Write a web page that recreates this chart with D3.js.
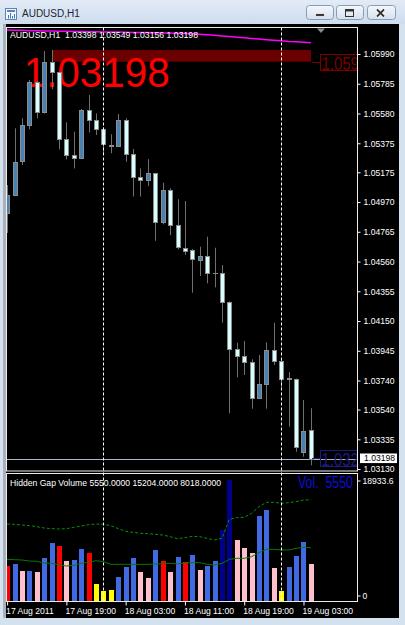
<!DOCTYPE html>
<html>
<head>
<meta charset="utf-8">
<script src="https://cdn.jsdelivr.net/npm/d3@7"></script>
<style>
body { margin: 0; background: #d4e1ef; }
svg { display: block; font-family: "Liberation Sans", Arial, sans-serif; }
</style>
</head>
<body>
<div id="chart"></div>
<script>
// hourly bars, AUDUSD H1
var times = [
  "2011.08.17 11:00","2011.08.17 12:00","2011.08.17 13:00","2011.08.17 14:00","2011.08.17 15:00","2011.08.17 16:00",
  "2011.08.17 17:00","2011.08.17 18:00","2011.08.17 19:00","2011.08.17 20:00","2011.08.17 21:00","2011.08.17 22:00",
  "2011.08.17 23:00","2011.08.18 00:00","2011.08.18 01:00","2011.08.18 02:00","2011.08.18 03:00","2011.08.18 04:00",
  "2011.08.18 05:00","2011.08.18 06:00","2011.08.18 07:00","2011.08.18 08:00","2011.08.18 09:00","2011.08.18 10:00",
  "2011.08.18 11:00","2011.08.18 12:00","2011.08.18 13:00","2011.08.18 14:00","2011.08.18 15:00","2011.08.18 16:00",
  "2011.08.18 17:00","2011.08.18 18:00","2011.08.18 19:00","2011.08.18 20:00","2011.08.18 21:00","2011.08.18 22:00",
  "2011.08.18 23:00","2011.08.19 00:00","2011.08.19 01:00","2011.08.19 02:00","2011.08.19 03:00","2011.08.19 04:00"
];
var open = [1.04892,1.05018,1.05250,1.05500,1.05799,1.05588,1.05933,1.05864,1.05406,1.05292,1.05275,1.05604,1.05535,1.05471,
  1.05363,1.05356,1.05535,1.05299,1.05145,1.05120,1.05168,1.04830,1.05053,1.04812,1.04653,1.04640,1.04570,1.04595,
  1.04484,1.04480,1.04280,1.03959,1.03911,1.03866,1.03620,1.03716,1.03950,1.03877,1.03755,1.03752,1.03245,1.03398];
var high = [1.05087,1.05478,1.05547,1.05811,1.05804,1.06011,1.06018,1.05866,1.05519,1.05455,1.05611,1.05707,1.05581,1.05485,
  1.05437,1.05577,1.05547,1.05335,1.05201,1.05265,1.05171,1.05104,1.05065,1.04989,1.04977,1.04646,1.04662,1.04731,
  1.04655,1.04536,1.04285,1.04001,1.04012,1.03886,1.03916,1.04003,1.04138,1.03881,1.03799,1.03754,1.03606,1.03549];
var low = [1.04757,1.05015,1.05225,1.05471,1.05547,1.05580,1.05747,1.05333,1.05264,1.05202,1.05270,1.05450,1.05432,1.05306,
  1.05306,1.05351,1.05248,1.05008,1.05008,1.05080,1.04703,1.04816,1.04741,1.04644,1.04605,1.04345,1.04460,1.04410,
  1.04382,1.04138,1.03514,1.03762,1.03778,1.03546,1.03613,1.03546,1.03847,1.03693,1.03422,1.03249,1.03215,1.03156];
var close = [1.05018,1.05248,1.05501,1.05799,1.05588,1.05933,1.05864,1.05406,1.05294,1.05271,1.05604,1.05535,1.05471,1.05368,
  1.05356,1.05535,1.05299,1.05145,1.05122,1.05168,1.04834,1.05053,1.04812,1.04657,1.04635,1.04575,1.04598,1.04479,
  1.04482,1.04283,1.03959,1.03911,1.03866,1.03617,1.03716,1.03950,1.03877,1.03753,1.03752,1.03284,1.03392,1.03198];
// magenta moving average at the top
var trendMA = [1.06155,1.06154,1.06153,1.06151,1.06150,1.06148,1.06148,1.06147,1.06146,1.06145,1.06145,1.06144,1.06143,1.06142,
  1.06142,1.06141,1.06140,1.06139,1.06139,1.06138,1.06136,1.06135,1.06134,1.06132,1.06131,1.06129,1.06126,1.06123,
  1.06119,1.06114,1.06110,1.06106,1.06102,1.06097,1.06093,1.06089,1.06085,1.06081,1.06077,1.06075,1.06071,1.06068];

// Hidden Gap Volume indicator
var volume = [5305,5560,4508,4508,4358,6462,8716,8265,6011,6161,7814,7258,2555,1548,1608,3606,5154,6462,4358,3411,7664,
  6011,4358,6567,5861,6867,4658,5214,6056,10669,18183,9121,7964,7168,12818,13675,4914,1503,5064,6762,8866,5550];
var volumeType = ["r","b","p","b","p","b","b","r","p","b","b","r","y","y","y","b","b","b","p","p","b",
  "r","p","b","r","b","p","b","b","n","n","p","p","p","b","b","p","y","b","b","b","p"];
var volumeSlow = [11571,11521,11421,11320,11170,10970,10869,10819,10869,11070,11270,11470,11571,11521,11320,10869,10469,10319,
  10168,10118,10018,9918,9667,9367,9517,9717,9667,9417,9166,9417,12272,12523,12573,13174,14175,14827,14827,14676,14776,14927,15177,15204];
var volumeFast = [6261,6211,6161,6011,5961,5710,5660,5460,5259,5360,5660,5811,6061,5911,5510,5510,5510,5510,5510,5510,5560,
  5610,5660,5560,5710,5760,5760,5510,5410,5660,6261,6412,6412,6662,7263,7764,7764,7664,7664,7914,8065,8018];
var volumeMax = 18933.6;

var priceTicks = [1.05990,1.05785,1.05580,1.05375,1.05175,1.04970,1.04765,1.04560,1.04355,1.04150,1.03945,1.03740,1.03540,1.03335,1.03130];
var priceMin = 1.031165, priceMax = 1.061692;
var axisTimes = ["2011.08.17 11:00","2011.08.17 19:00","2011.08.18 03:00","2011.08.18 11:00","2011.08.18 19:00","2011.08.19 03:00"];
var axisLabels = ["17 Aug 2011","17 Aug 19:00","18 Aug 03:00","18 Aug 11:00","18 Aug 19:00","19 Aug 03:00"];
var separators = ["2011.08.18 00:00","2011.08.19 00:00"];

// chart objects
var gapFrom = "2011.08.17 17:00", gapTo = "2011.08.19 04:00", gapTop = 1.06018, gapBottom = 1.05937;
var redLabelPrice = 1.05935, blueLabelPrice = 1.03208;

var volColor = {b: "#4169e1", r: "#ff0000", p: "#ffc0cb", y: "#ffff00", n: "#00008b"};
var fmt5 = d3.format(".5f"), fmt4 = d3.format(".4f");
var last = times.length - 1;
var smallFont = 8.6, fontFamily = "Liberation Sans, Arial, sans-serif";

var W = 405, H = 625;
var plotL = 6.5, plotR = 357.5, mainT = 27.5, mainB = 471, subT = 473.5, subB = 601.5;

var svg = d3.select("#chart").append("svg")
  .attr("width", W)
  .attr("height", H);

var defs = svg.append("defs");
var tg = defs.append("linearGradient").attr("id", "titleGrad").attr("x1", 0).attr("y1", 0).attr("x2", 0).attr("y2", 1);
tg.append("stop").attr("offset", "0%").attr("stop-color", "#e2ebf6");
tg.append("stop").attr("offset", "100%").attr("stop-color", "#cedcee");
var bg = defs.append("linearGradient").attr("id", "btnGrad").attr("x1", 0).attr("y1", 0).attr("x2", 0).attr("y2", 1);
bg.append("stop").attr("offset", "0%").attr("stop-color", "#f5f8fc");
bg.append("stop").attr("offset", "100%").attr("stop-color", "#d6e0ec");
defs.append("clipPath").attr("id", "mainClip").append("rect")
  .attr("x", plotL).attr("y", mainT).attr("width", plotR - plotL).attr("height", mainB - mainT);
defs.append("clipPath").attr("id", "subClip").append("rect")
  .attr("x", plotL).attr("y", subT).attr("width", plotR - plotL).attr("height", subB - subT);

// window chrome
svg.append("rect").attr("width", W).attr("height", H).attr("fill", "#d4e1ef");
svg.append("rect").attr("width", W).attr("height", 24).attr("fill", "url(#titleGrad)");
svg.append("rect").attr("x", 3).attr("y", 24).attr("width", 396).attr("height", 594).attr("fill", "#a9b2bc");
svg.append("rect").attr("x", 6).attr("y", 24).attr("width", 393).attr("height", 594).attr("fill", "#000");

// title bar icon + caption
svg.append("rect").attr("x", 5.5).attr("y", 8.5).attr("width", 11).attr("height", 11)
  .attr("fill", "#f2f6fb").attr("stroke", "#5d82b3");
svg.append("rect").attr("x", 7).attr("y", 10).attr("width", 8).attr("height", 2).attr("fill", "#5d82b3");
[[8, 15], [10, 13], [12, 16], [14, 14]].forEach(function (p) {
  svg.append("line").attr("x1", p[0] + 0.5).attr("x2", p[0] + 0.5).attr("y1", p[1]).attr("y2", 18.5)
    .attr("stroke", "#3a78c8");
});
svg.append("text").attr("x", 22).attr("y", 16.7)
  .attr("font-size", 10).attr("fill", "#1b2533")
  .text("AUDUSD,H1");

var buttons = [{x: 306, w: 27}, {x: 336, w: 27}, {x: 367, w: 28}];
buttons.forEach(function (b) {
  svg.append("rect").attr("x", b.x + 0.5).attr("y", 5.5).attr("width", b.w).attr("height", 14).attr("rx", 3)
    .attr("fill", "url(#btnGrad)").attr("stroke", "#8a9cb6");
});
svg.append("rect").attr("x", 315.5).attr("y", 13.5).attr("width", 9).attr("height", 3)
  .attr("fill", "#3a3a3a").attr("stroke", "#fff").attr("stroke-width", 0.7);
svg.append("rect").attr("x", 345.5).attr("y", 9.5).attr("width", 8).attr("height", 7)
  .attr("fill", "none").attr("stroke", "#333");
svg.append("rect").attr("x", 345.5).attr("y", 9.5).attr("width", 8).attr("height", 2).attr("fill", "#333");
[["#fff", 3.4], ["#333", 1.8]].forEach(function (s) {
  svg.append("path").attr("d", "M377,9.5L384,16.5M384,9.5L377,16.5")
    .attr("stroke", s[0]).attr("stroke-width", s[1]);
});

// scales
var x = d3.scalePoint().domain(times).range([7.1, 310.9]);
function bx(t) { return Math.round(x(t)); }
var y = d3.scaleLinear().domain([priceMin, priceMax]).range([mainB, 28]);
var yv = d3.scaleLinear().domain([0, volumeMax]).range([601, 475]);

// ---------- main window ----------
var main = svg.append("g").attr("clip-path", "url(#mainClip)");

// gap rectangle
main.append("rect")
  .attr("x", bx(gapFrom))
  .attr("y", y(gapTop))
  .attr("width", bx(gapTo) - bx(gapFrom))
  .attr("height", y(gapBottom) - y(gapTop))
  .attr("fill", "#6b0000");

// big price text
main.append("text")
  .attr("x", 23.7).attr("y", 86.7)
  .attr("font-size", 42)
  .attr("textLength", 146).attr("lengthAdjust", "spacingAndGlyphs")
  .attr("fill", "#ff0000")
  .text(fmt5(close[last]));

// bid line
main.append("line")
  .attr("x1", plotL).attr("x2", plotR)
  .attr("y1", Math.round(y(close[last])) + 0.5).attr("y2", Math.round(y(close[last])) + 0.5)
  .attr("stroke", "#a8b8cc");

// candles
var bars = times.map(function (t, i) {
  return {t: t, o: open[i], h: high[i], l: low[i], c: close[i]};
});
var candle = main.append("g").selectAll("g")
  .data(bars)
  .enter()
  .append("g");

candle.append("line")
  .attr("x1", function (d) { return bx(d.t) + 0.5; })
  .attr("x2", function (d) { return bx(d.t) + 0.5; })
  .attr("y1", function (d) { return y(d.h); })
  .attr("y2", function (d) { return y(d.l); })
  .attr("stroke", "#707070");

candle.each(function (d) {
  var g = d3.select(this);
  var top = Math.round(y(Math.max(d.o, d.c))), bot = Math.round(y(Math.min(d.o, d.c)));
  if (bot - top < 1) {
    g.append("line")
      .attr("x1", bx(d.t) - 2).attr("x2", bx(d.t) + 3)
      .attr("y1", top + 0.5).attr("y2", top + 0.5)
      .attr("stroke", "#8c8c8c");
  } else {
    g.append("rect")
      .attr("x", bx(d.t) - 1.5)
      .attr("y", top + 0.5)
      .attr("width", 4)
      .attr("height", bot - top)
      .attr("fill", d.c > d.o ? "#4682b4" : "#d8ffff")
      .attr("stroke", "#8c8c8c");
  }
});

// moving average
main.append("path")
  .datum(trendMA)
  .attr("fill", "none")
  .attr("stroke", "#ff00ff")
  .attr("stroke-width", 1.5)
  .attr("d", d3.line()
    .x(function (d, i) { return x(times[i]); })
    .y(function (d) { return y(d); }));

// price label objects at the right (cut by the window edge, only the start shows)
[{p: redLabelPrice, col: "#7a0000"}, {p: blueLabelPrice, col: "#1c1c78"}].forEach(function (o) {
  var ly = Math.round(y(o.p)) + 0.5;
  main.append("line").attr("x1", bx(times[last]) + 1).attr("x2", 320.5)
    .attr("y1", ly).attr("y2", ly).attr("stroke", o.col);
  main.append("rect").attr("x", 320.5).attr("y", ly - 8).attr("width", 60).attr("height", 16)
    .attr("fill", "none").attr("stroke", o.col);
  main.append("text").attr("x", 321.5).attr("y", ly + 7.5)
    .attr("font-size", 18)
    .attr("textLength", 37.4).attr("lengthAdjust", "spacingAndGlyphs")
    .attr("fill", o.col)
    .text(fmt5(o.p).slice(0, 5));
});

// header text
main.append("text")
  .attr("x", 10).attr("y", 38.3)
  .attr("font-size", smallFont)
  .attr("textLength", 188).attr("lengthAdjust", "spacingAndGlyphs")
  .attr("fill", "#fff")
  .attr("xml:space", "preserve")
  .text("AUDUSD,H1  " + [open[last], high[last], low[last], close[last]].map(fmt5).join(" "));

// chart shift marker
svg.append("path").attr("d", "M317,28.5L325,28.5L321,33Z").attr("fill", "#8a8a8a");

// price axis
svg.append("g")
  .attr("transform", "translate(" + plotR + ",0)")
  .call(d3.axisRight(y).tickValues(priceTicks).tickSize(3).tickFormat(fmt5))
  .attr("font-size", smallFont)
  .attr("font-family", fontFamily)
  .call(function (g) {
    g.select(".domain").remove();
    g.selectAll("line").attr("stroke", "#fff");
    g.selectAll("text").attr("fill", "#fff").attr("x", 6);
  });

// bid label
var bidY = y(close[last]) - 1;
svg.append("rect").attr("x", 360).attr("y", bidY - 4.7).attr("width", 37).attr("height", 9.6).attr("fill", "#fff");
svg.append("text").attr("x", 364).attr("y", bidY + 3)
  .attr("font-size", smallFont).attr("fill", "#000")
  .text(fmt5(close[last]));

// ---------- indicator window ----------
var sub = svg.append("g").attr("clip-path", "url(#subClip)");

sub.append("g").selectAll("rect")
  .data(volume)
  .enter()
  .append("rect")
  .attr("x", function (d, i) { return bx(times[i]) - 2; })
  .attr("y", function (d) { return Math.round(yv(d)); })
  .attr("width", 5)
  .attr("height", function (d) { return 601 - Math.round(yv(d)); })
  .attr("fill", function (d, i) { return volColor[volumeType[i]]; });

var vline = d3.line()
  .x(function (d, i) { return x(times[i]); })
  .y(function (d) { return yv(d); });

sub.append("path")
  .datum(volumeSlow)
  .attr("fill", "none")
  .attr("stroke", "#0b8f0b")
  .attr("stroke-dasharray", "3,2")
  .attr("d", vline);

sub.append("path")
  .datum(volumeFast)
  .attr("fill", "none")
  .attr("stroke", "#067806")
  .attr("d", vline);

sub.append("text")
  .attr("x", 10).attr("y", 486)
  .attr("font-size", smallFont)
  .attr("textLength", 211).attr("lengthAdjust", "spacingAndGlyphs")
  .attr("fill", "#fff")
  .text("Hidden Gap Volume " + [volume[last], volumeSlow[last], volumeFast[last]].map(fmt4).join(" "));

sub.append("text")
  .attr("x", 298).attr("y", 488.3)
  .attr("font-size", 16)
  .attr("textLength", 55).attr("lengthAdjust", "spacingAndGlyphs")
  .attr("fill", "#0d0dd8")
  .attr("xml:space", "preserve")
  .text("Vol.  " + volume[last]);

// indicator scale
svg.append("g")
  .attr("transform", "translate(" + plotR + ",0)")
  .call(d3.axisRight(yv).tickValues([0, volumeMax]).tickSize(3)
    .tickFormat(function (d) { return d ? d3.format(".1f")(d) : "0"; }))
  .attr("font-size", smallFont)
  .attr("font-family", fontFamily)
  .call(function (g) {
    g.select(".domain").remove();
    g.selectAll(".tick").attr("transform", function (d) {
      return "translate(0," + (d ? yv(d) + 6 : yv(d) - 5) + ")";
    });
    g.selectAll("line").attr("stroke", "#fff");
    g.selectAll("text").attr("fill", "#fff").attr("x", 5);
  });

// day separators across both windows
svg.append("g").selectAll("line")
  .data(separators)
  .enter()
  .append("line")
  .attr("x1", function (d) { return bx(d) + 0.5; })
  .attr("x2", function (d) { return bx(d) + 0.5; })
  .attr("y1", mainT).attr("y2", subB)
  .attr("stroke", "#fff")
  .attr("stroke-dasharray", "3,2");

// frames
[[mainT, mainB], [subT, subB]].forEach(function (f) {
  svg.append("rect")
    .attr("x", plotL).attr("y", f[0])
    .attr("width", plotR - plotL).attr("height", f[1] - f[0])
    .attr("fill", "none").attr("stroke", "#ececec");
});

// time axis
svg.append("g")
  .attr("transform", "translate(0," + subB + ")")
  .call(d3.axisBottom(x).tickValues(axisTimes).tickSize(4)
    .tickFormat(function (d, i) { return axisLabels[i]; }))
  .attr("font-size", smallFont)
  .attr("font-family", fontFamily)
  .call(function (g) {
    g.select(".domain").remove();
    g.selectAll("line").attr("stroke", "#fff");
    g.selectAll("text").attr("fill", "#fff")
      .attr("text-anchor", "start")
      .attr("x", -1.5).attr("y", 12).attr("dy", null);
  });
</script>
</body>
</html>
